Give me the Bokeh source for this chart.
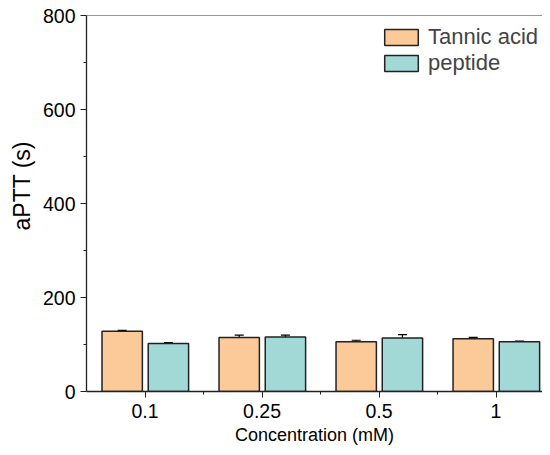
from bokeh.plotting import figure
from bokeh.models import (ColumnDataSource, FixedTicker, Whisker, TeeHead, Span,
                          Range1d, Legend, LegendItem, Title)
from bokeh.embed import file_html
from bokeh.resources import INLINE

categories = ["0.1", "0.25", "0.5", "1"]
tannic = [128, 115, 106, 112]
tannic_err = [2, 5, 3, 3]
peptide = [102, 116, 114, 106]
peptide_err = [2, 4, 7, 1]

FONT = "Liberation Sans"
pos = [i + 1 for i in range(len(categories))]

p = figure(width=542, height=447, output_backend="svg", toolbar_location=None,
           x_range=Range1d(0.5, 4.397), y_range=Range1d(0, 800))
p.min_border_left = 86
p.min_border_right = 0
p.min_border_top = 15
p.min_border_bottom = 56
p.outline_line_color = None
p.grid.visible = False
p.background_fill_color = "white"

src_t = ColumnDataSource(dict(x=[x - 0.195 for x in pos], y=tannic,
                              lo=[v - e for v, e in zip(tannic, tannic_err)],
                              hi=[v + e for v, e in zip(tannic, tannic_err)]))
src_p = ColumnDataSource(dict(x=[x + 0.2 for x in pos], y=peptide,
                              lo=[v - e for v, e in zip(peptide, peptide_err)],
                              hi=[v + e for v, e in zip(peptide, peptide_err)]))

r_t = p.vbar(x="x", top="y", width=0.345, source=src_t, fill_color="#FCC998",
             line_color="#222222", line_width=1.5)
r_p = p.vbar(x="x", top="y", width=0.345, source=src_p, fill_color="#A2D8D6",
             line_color="#222222", line_width=1.5)

for s in (src_t, src_p):
    w = Whisker(base="x", lower="lo", upper="hi", source=s, line_color="black",
                line_width=1.2,
                upper_head=TeeHead(size=9, line_color="black", line_width=1.2),
                lower_head=TeeHead(size=9, line_color="black", line_width=1.2))
    p.add_layout(w)

p.add_layout(Span(location=800, dimension="width", line_color="#333333", line_width=1.2))

p.xaxis.ticker = FixedTicker(ticks=pos, minor_ticks=[1.5, 2.5, 3.5])
p.xaxis.major_label_overrides = {x: c for x, c in zip(pos, categories)}
p.yaxis.ticker = FixedTicker(ticks=[0, 200, 400, 600, 800],
                             minor_ticks=[100, 300, 500, 700])

for ax in (p.xaxis[0], p.yaxis[0]):
    ax.axis_line_color = "#222222"
    ax.axis_line_width = 1.3
    ax.major_tick_line_color = "#222222"
    ax.minor_tick_line_color = "#222222"
    ax.major_tick_out = 6
    ax.major_tick_in = 0
    ax.minor_tick_out = 3
    ax.minor_tick_in = 0
    ax.major_label_text_font = FONT
    ax.major_label_text_font_size = "19.5px"
    ax.major_label_text_color = "black"
    ax.axis_label_text_font = FONT
    ax.axis_label_text_font_style = "normal"
    ax.axis_label_text_color = "black"

p.xaxis.major_label_standoff = 6
p.yaxis.major_label_standoff = 5
p.xaxis.axis_label = "Concentration (mM)"
p.xaxis.axis_label_text_font_size = "18px"
p.xaxis.axis_label_standoff = 4

ytitle = Title(text="aPTT (s)", align="left", offset=161, standoff=9,
               text_font=FONT, text_font_size="23px", text_font_style="normal",
               text_color="black")
p.add_layout(ytitle, "left")

legend = Legend(items=[LegendItem(label="Tannic acid", renderers=[r_t]),
                       LegendItem(label="peptide", renderers=[r_p])],
                location=(294, 315))
legend.border_line_color = None
legend.background_fill_alpha = 0
legend.padding = 0
legend.spacing = 0
legend.glyph_width = 42
legend.glyph_height = 20
legend.label_height = 20
legend.label_text_font = FONT
legend.label_text_font_size = "22px"
legend.label_standoff = 6
legend.margin = 0
p.add_layout(legend)

open("out.html", "w").write(file_html(p, INLINE))
